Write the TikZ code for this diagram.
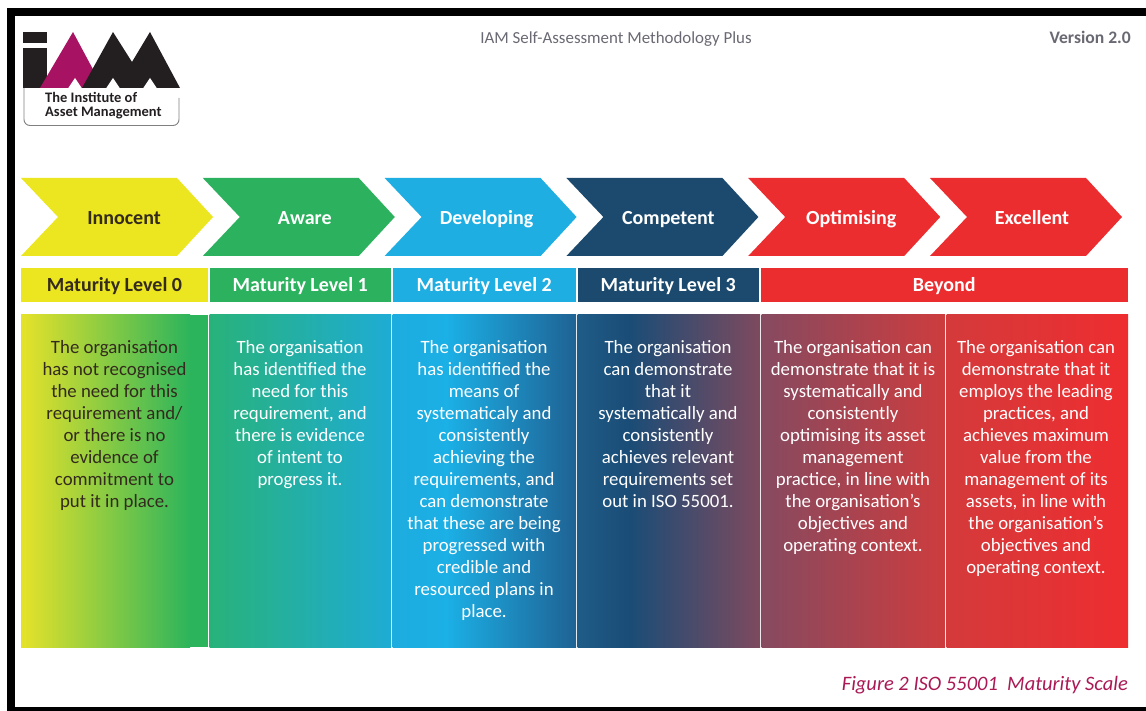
\documentclass[tikz,border=0pt]{standalone}
\usepackage{fontspec}
\setmainfont{Carlito}
\usetikzlibrary{backgrounds}
\pgfdeclarelayer{edgelayer}
\pgfdeclarelayer{nodelayer}
\pgfsetlayers{edgelayer,nodelayer,main}
\definecolor{innocent}{RGB}{235,230,32}
\definecolor{aware}{RGB}{44,178,94}
\definecolor{developing}{RGB}{30,174,226}
\definecolor{competent}{RGB}{27,74,110}
\definecolor{beyond}{RGB}{236,45,48}
\definecolor{darktext}{RGB}{52,42,30}
\definecolor{iammagenta}{RGB}{168,18,98}
\definecolor{iamblack}{RGB}{35,31,32}
\definecolor{headgrey}{RGB}{105,105,115}
\definecolor{figred}{RGB}{170,25,85}
\definecolor{c0a}{RGB}{230,226,42}
\definecolor{c0b}{RGB}{44,180,92}
\definecolor{c1a}{RGB}{40,178,122}
\definecolor{c1b}{RGB}{30,172,212}
\definecolor{c2a}{RGB}{29,172,222}
\definecolor{c2b}{RGB}{27,176,230}
\definecolor{c2c}{RGB}{31,98,148}
\definecolor{c3a}{RGB}{30,92,135}
\definecolor{c3b}{RGB}{26,76,118}
\definecolor{c3c}{RGB}{126,74,94}
\definecolor{c4a}{RGB}{134,74,96}
\definecolor{c4b}{RGB}{205,60,62}
\definecolor{c5a}{RGB}{212,58,59}
\definecolor{c5b}{RGB}{238,45,48}
\tikzstyle{none}=[inner sep=0pt]
\tikzstyle{stage}=[inner sep=0pt, text=white, font=\fontsize{20}{24}\selectfont\bfseries, text height=13pt, text depth=0pt]
\tikzstyle{level}=[inner sep=0pt, minimum height=34pt, text=white, font=\fontsize{20}{24}\selectfont\bfseries, text height=13pt, text depth=0pt]
\tikzstyle{desc}=[inner sep=0pt, anchor=north, align=center, text=white, font=\fontsize{18.8}{22}\selectfont]

\begin{document}
\begin{tikzpicture}[x=1pt, y=-1pt]
	\useasboundingbox (0,0) rectangle (1146,711);
	\begin{pgfonlayer}{edgelayer}
		% frame
		\fill[black] (7,8) rectangle (1146,16);
		\fill[black] (7,8) rectangle (15,711);
		\fill[black] (7,707) rectangle (1146,711);
		% logo
		\fill[iamblack] (23,32) rectangle (47,43);
		\fill[iamblack] (23,48) rectangle (47,88);
		\fill[iammagenta] (40,88) -- (73,32) -- (103,88) -- cycle;
		\fill[iamblack] (82,88) -- (113,32) -- (132,62) -- (150,32) -- (180,88) -- cycle;
		\fill[white] (68,88.5) -- (75,78) -- (82,88.5) -- cycle;
		\fill[white] (106,88.5) -- (113,78) -- (120,88.5) -- cycle;
		\fill[white] (143,88.5) -- (150,78) -- (157,88.5) -- cycle;
		\draw[gray, line width=0.9pt, rounded corners=6pt] (24,88) -- (24,125.5) -- (179,125.5) -- (179,98);
		% chevrons
		\fill[innocent] (21,178) -- (177,178) -- (213,217) -- (177,256) -- (21,256) -- (58,217) -- cycle;
		\fill[aware] (202.8,178) -- (358.8,178) -- (394.8,217) -- (358.8,256) -- (202.8,256) -- (239.8,217) -- cycle;
		\fill[developing] (384.6,178) -- (540.6,178) -- (576.6,217) -- (540.6,256) -- (384.6,256) -- (421.6,217) -- cycle;
		\fill[competent] (566.4,178) -- (722.4,178) -- (758.4,217) -- (722.4,256) -- (566.4,256) -- (603.4,217) -- cycle;
		\fill[beyond] (748.2,178) -- (904.2,178) -- (940.2,217) -- (904.2,256) -- (748.2,256) -- (785.2,217) -- cycle;
		\fill[beyond] (930,178) -- (1086,178) -- (1122,217) -- (1086,256) -- (930,256) -- (967,217) -- cycle;
		% description columns
		\shade[left color=c0a, right color=c0b] (21,315) rectangle (190,647);
		\fill[c0b] (189.5,315) rectangle (208,647);
		\shade[left color=c1a, right color=c1b] (209.5,315) rectangle (391,647);
		\shade[left color=c2a, right color=c2b] (392.5,315) rectangle (447,647);
		\shade[left color=c2b, right color=c2c] (446.5,315) rectangle (576,647);
		\shade[left color=c3a, right color=c3b] (577.5,315) rectangle (630,647);
		\shade[left color=c3b, right color=c3c] (629.5,315) rectangle (760,647);
		\shade[left color=c4a, right color=c4b] (761.5,315) rectangle (945,647);
		\shade[left color=c5a, right color=c5b] (946.5,315) rectangle (1128,647);
	\end{pgfonlayer}
	\begin{pgfonlayer}{nodelayer}
		\node [style=none, anchor=base west, text=iamblack, font=\fontsize{14.5}{14}\selectfont\bfseries] (inst) at (45,103) {The Institute of};
		\node [style=none, anchor=base west, text=iamblack, font=\fontsize{14.5}{14}\selectfont\bfseries] (am) at (45,117) {Asset Management};
		\node [style=none, anchor=base, text=headgrey, font=\fontsize{16.9}{20}\selectfont] (title) at (616,44) {IAM Self-Assessment Methodology Plus};
		\node [style=none, anchor=base east, text=headgrey, font=\fontsize{17.6}{20}\selectfont\bfseries] (version) at (1131,44) {Version 2.0};

		\node [style=stage, text=darktext] (0) at (124,218.5) {Innocent};
		\node [style=stage] (1) at (304.8,218.5) {Aware};
		\node [style=stage] (2) at (486.6,218.5) {Developing};
		\node [style=stage] (3) at (668.4,218.5) {Competent};
		\node [style=stage] (4) at (851.2,218.5) {Optimising};
		\node [style=stage] (5) at (1032,218.5) {Excellent};

		\node [style=level, fill=innocent, text=darktext, minimum width=187pt] (l0) at (114.5,285) {Maturity Level 0};
		\node [style=level, fill=aware, minimum width=181.5pt] (l1) at (300.25,285) {Maturity Level 1};
		\node [style=level, fill=developing, minimum width=183.5pt] (l2) at (484.25,285) {Maturity Level 2};
		\node [style=level, fill=competent, minimum width=181.5pt] (l3) at (668.25,285) {Maturity Level 3};
		\node [style=level, fill=beyond, minimum width=367.5pt] (l4) at (944.25,285) {Beyond};

		\node [style=desc, text=darktext] (d0) at (114.5,340.7) {The organisation\\has not recognised\\the need for this\\requirement and/\\or there is no\\evidence of\\commitment to\\put it in place.};
		\node [style=desc] (d1) at (300,340.7) {The organisation\\has identified the\\need for this\\requirement, and\\there is evidence\\of intent to\\progress it.};
		\node [style=desc] (d2) at (484,340.7) {The organisation\\has identified the\\means of\\systematicaly and\\consistently\\achieving the\\requirements, and\\can demonstrate\\that these are being\\progressed with\\credible and\\resourced plans in\\place.};
		\node [style=desc] (d3) at (668,340.7) {The organisation\\can demonstrate\\that it\\systematically and\\consistently\\achieves relevant\\requirements set\\out in ISO 55001.};
		\node [style=desc] (d4) at (853,340.7) {The organisation can\\demonstrate that it is\\systematically and\\consistently\\optimising its asset\\management\\practice, in line with\\the organisation's\\objectives and\\operating context.};
		\node [style=desc] (d5) at (1036,340.7) {The organisation can\\demonstrate that it\\employs the leading\\practices, and\\achieves maximum\\value from the\\management of its\\assets, in line with\\the organisation's\\objectives and\\operating context.};

		\node [style=none, anchor=base east, text=figred, font=\fontsize{20.5}{24}\selectfont\itshape] (caption) at (1128,690) {Figure 2 ISO 55001~ Maturity Scale};
	\end{pgfonlayer}
\end{tikzpicture}
\end{document}
